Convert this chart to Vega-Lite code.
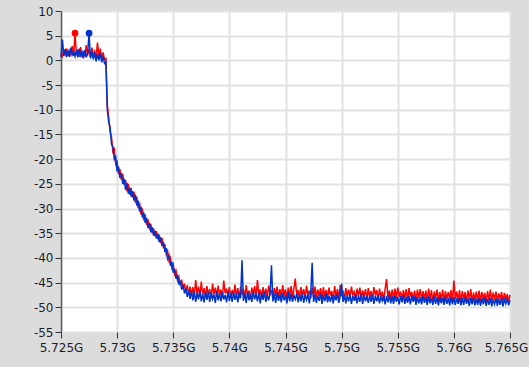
{
 "$schema": "https://vega.github.io/schema/vega-lite/v6.json",
 "width": 449, "height": 321,
 "autosize": {"type": "none"},
 "padding": {"left": 61, "top": 11, "right": 19, "bottom": 35},
 "background": "#dcdcdc",
 "config": {
  "view": {"fill": "white", "stroke": null},
  "axis": {"title": null, "labelFont": "DejaVu Sans", "labelFontSize": 12, "labelColor": "#1c1c2c", "gridColor": "#e2e2e2", "gridWidth": 2, "tickColor": "#333333", "tickSize": 6, "domainColor": "#5a5a5a", "domainWidth": 1.5, "labelOverlap": false, "labelBound": false, "labelFlush": false}
 },
 "datasets": {
  "trace": [
   {"f":5.725,"r":1.5,"b":0.6},{"f":5.725125,"r":0.9,"b":4.2},{"f":5.72525,"r":2.0,"b":0.9},{"f":5.725375,"r":1.1,"b":2.3},
   {"f":5.7255,"r":2.4,"b":1.0},{"f":5.725625,"r":0.8,"b":1.9},{"f":5.72575,"r":1.9,"b":0.7},{"f":5.725875,"r":1.2,"b":2.6},
   {"f":5.726,"r":2.9,"b":1.1},{"f":5.726125,"r":0.9,"b":1.8},{"f":5.72625,"r":5.5,"b":0.8},{"f":5.726375,"r":1.1,"b":2.0},
   {"f":5.7265,"r":2.2,"b":0.6},{"f":5.726625,"r":0.7,"b":2.4},{"f":5.72675,"r":2.7,"b":1.0},{"f":5.726875,"r":0.6,"b":1.7},
   {"f":5.727,"r":1.9,"b":0.4},{"f":5.727125,"r":0.8,"b":2.1},{"f":5.72725,"r":3.1,"b":0.6},{"f":5.727375,"r":1.0,"b":1.5},
   {"f":5.7275,"r":2.3,"b":5.5},{"f":5.727625,"r":0.7,"b":0.4},{"f":5.72775,"r":2.6,"b":1.8},{"f":5.727875,"r":0.9,"b":0.2},
   {"f":5.728,"r":1.8,"b":1.6},{"f":5.728125,"r":0.5,"b":-0.2},{"f":5.72825,"r":3.6,"b":1.3},{"f":5.728375,"r":0.8,"b":0.0},
   {"f":5.7285,"r":2.4,"b":1.5},{"f":5.728625,"r":0.3,"b":-0.4},{"f":5.72875,"r":1.6,"b":0.8},{"f":5.728875,"r":0.2,"b":-0.6},
   {"f":5.729,"r":0.4,"b":-0.3},{"f":5.729125,"r":-9,"b":-10},{"f":5.72925,"r":-11.5,"b":-12.5},{"f":5.729375,"r":-14.5,"b":-13.5},
   {"f":5.7295,"r":-15.5,"b":-17},{"f":5.729625,"r":-18.5,"b":-17.5},{"f":5.72975,"r":-18,"b":-20},{"f":5.729875,"r":-21,"b":-19.5},
   {"f":5.73,"r":-20.5,"b":-22.5},{"f":5.730125,"r":-23,"b":-21.5},{"f":5.73025,"r":-22,"b":-23.8},{"f":5.730375,"r":-24.2,"b":-22.8},
   {"f":5.7305,"r":-23,"b":-25},{"f":5.730625,"r":-25.2,"b":-24},{"f":5.73075,"r":-24.2,"b":-26.2},{"f":5.730875,"r":-26.5,"b":-24.8},
   {"f":5.731,"r":-25,"b":-27},{"f":5.731125,"r":-27.2,"b":-25.8},{"f":5.73125,"r":-25.8,"b":-27.6},{"f":5.731375,"r":-27.8,"b":-26.5},
   {"f":5.7315,"r":-26.6,"b":-28.4},{"f":5.731625,"r":-28.8,"b":-27.2},{"f":5.73175,"r":-27.6,"b":-29.4},{"f":5.731875,"r":-29.9,"b":-28.4},
   {"f":5.732,"r":-28.8,"b":-30.6},{"f":5.732125,"r":-31.2,"b":-29.6},{"f":5.73225,"r":-30,"b":-31.8},{"f":5.732375,"r":-32.4,"b":-30.8},
   {"f":5.7325,"r":-31.2,"b":-32.9},{"f":5.732625,"r":-33.3,"b":-31.9},{"f":5.73275,"r":-32.2,"b":-33.9},{"f":5.732875,"r":-34.2,"b":-32.9},
   {"f":5.733,"r":-33.1,"b":-34.8},{"f":5.733125,"r":-35,"b":-33.8},{"f":5.73325,"r":-34,"b":-35.5},{"f":5.733375,"r":-35.6,"b":-34.5},
   {"f":5.7335,"r":-34.6,"b":-36.1},{"f":5.733625,"r":-36.2,"b":-35.1},{"f":5.73375,"r":-35.3,"b":-36.8},{"f":5.733875,"r":-37,"b":-35.8},
   {"f":5.734,"r":-36,"b":-37.6},{"f":5.734125,"r":-38,"b":-36.8},{"f":5.73425,"r":-37.2,"b":-38.8},{"f":5.734375,"r":-39.3,"b":-38},
   {"f":5.7345,"r":-38.6,"b":-40.2},{"f":5.734625,"r":-40.6,"b":-39.5},{"f":5.73475,"r":-40,"b":-41.6},{"f":5.734875,"r":-42,"b":-40.8},
   {"f":5.735,"r":-41.3,"b":-43},{"f":5.735125,"r":-43.3,"b":-42.2},{"f":5.73525,"r":-42.6,"b":-44.2},{"f":5.735375,"r":-44.5,"b":-43.4},
   {"f":5.7355,"r":-43.8,"b":-45.4},{"f":5.735625,"r":-45.6,"b":-44.6},{"f":5.73575,"r":-44.4,"b":-46.4},{"f":5.735875,"r":-46.3,"b":-45.4},
   {"f":5.736,"r":-45.2,"b":-47.2},{"f":5.736125,"r":-46.9,"b":-46.2},{"f":5.73625,"r":-45.5,"b":-47.9},{"f":5.736375,"r":-47.4,"b":-46.6},
   {"f":5.7365,"r":-45.8,"b":-48.3},{"f":5.736625,"r":-47.6,"b":-46.7},{"f":5.73675,"r":-45.9,"b":-48.6},{"f":5.736875,"r":-47.8,"b":-46.9},
   {"f":5.737,"r":-44.5,"b":-48.9},{"f":5.737125,"r":-47.3,"b":-47.1},{"f":5.73725,"r":-45.8,"b":-48.4},{"f":5.737375,"r":-47.9,"b":-46.6},
   {"f":5.7375,"r":-44.8,"b":-48.8},{"f":5.737625,"r":-47.5,"b":-47.3},{"f":5.73775,"r":-46.1,"b":-49.0},{"f":5.737875,"r":-48.0,"b":-46.8},
   {"f":5.738,"r":-45.7,"b":-48.5},{"f":5.738125,"r":-47.6,"b":-47.0},{"f":5.73825,"r":-46.3,"b":-48.9},{"f":5.738375,"r":-48.2,"b":-46.9},
   {"f":5.7385,"r":-45.2,"b":-48.3},{"f":5.738625,"r":-47.4,"b":-47.4},{"f":5.73875,"r":-46.0,"b":-49.1},{"f":5.738875,"r":-47.9,"b":-46.7},
   {"f":5.739,"r":-45.6,"b":-48.6},{"f":5.739125,"r":-47.7,"b":-47.2},{"f":5.73925,"r":-46.4,"b":-48.8},{"f":5.739375,"r":-48.1,"b":-46.9},
   {"f":5.7395,"r":-44.6,"b":-48.4},{"f":5.739625,"r":-47.2,"b":-47.5},{"f":5.73975,"r":-46.2,"b":-49.0},{"f":5.739875,"r":-47.8,"b":-46.8},
   {"f":5.74,"r":-45.9,"b":-48.7},{"f":5.740125,"r":-48.0,"b":-47.1},{"f":5.74025,"r":-46.5,"b":-48.9},{"f":5.740375,"r":-47.6,"b":-46.9},
   {"f":5.7405,"r":-45.4,"b":-48.5},{"f":5.740625,"r":-47.9,"b":-47.3},{"f":5.74075,"r":-46.1,"b":-49.0},{"f":5.740875,"r":-48.2,"b":-47.0},
   {"f":5.741,"r":-45.8,"b":-48.2},{"f":5.741125,"r":-47.5,"b":-40.5},{"f":5.74125,"r":-46.3,"b":-48.7},{"f":5.741375,"r":-48.0,"b":-47.2},
   {"f":5.7415,"r":-45.5,"b":-49.1},{"f":5.741625,"r":-47.7,"b":-46.9},{"f":5.74175,"r":-46.6,"b":-48.6},{"f":5.741875,"r":-48.3,"b":-47.4},
   {"f":5.742,"r":-46.0,"b":-48.9},{"f":5.742125,"r":-47.4,"b":-46.8},{"f":5.74225,"r":-45.7,"b":-48.4},{"f":5.742375,"r":-48.1,"b":-47.3},
   {"f":5.7425,"r":-44.5,"b":-48.8},{"f":5.742625,"r":-47.6,"b":-47.0},{"f":5.74275,"r":-46.4,"b":-49.2},{"f":5.742875,"r":-48.2,"b":-47.1},
   {"f":5.743,"r":-45.9,"b":-48.5},{"f":5.743125,"r":-47.8,"b":-46.8},{"f":5.74325,"r":-46.2,"b":-48.9},{"f":5.743375,"r":-48.0,"b":-47.5},
   {"f":5.7435,"r":-45.6,"b":-48.6},{"f":5.743625,"r":-47.3,"b":-47.2},{"f":5.74375,"r":-46.5,"b":-41.5},{"f":5.743875,"r":-48.3,"b":-48.8},
   {"f":5.744,"r":-46.1,"b":-47.3},{"f":5.744125,"r":-47.7,"b":-49.1},{"f":5.74425,"r":-45.8,"b":-47.0},{"f":5.744375,"r":-48.1,"b":-48.7},
   {"f":5.7445,"r":-46.3,"b":-47.4},{"f":5.744625,"r":-47.9,"b":-49.0},{"f":5.74475,"r":-45.5,"b":-47.1},{"f":5.744875,"r":-47.6,"b":-48.6},
   {"f":5.745,"r":-46.4,"b":-47.5},{"f":5.745125,"r":-48.2,"b":-49.2},{"f":5.74525,"r":-46.0,"b":-46.9},{"f":5.745375,"r":-47.8,"b":-48.8},
   {"f":5.7455,"r":-45.7,"b":-47.3},{"f":5.745625,"r":-48.0,"b":-48.9},{"f":5.74575,"r":-46.2,"b":-47.6},{"f":5.745875,"r":-44.2,"b":-48.4},
   {"f":5.746,"r":-47.6,"b":-47.2},{"f":5.746125,"r":-46.5,"b":-49.0},{"f":5.74625,"r":-48.3,"b":-47.4},{"f":5.746375,"r":-45.9,"b":-48.8},
   {"f":5.7465,"r":-47.7,"b":-47.1},{"f":5.746625,"r":-46.3,"b":-49.1},{"f":5.74675,"r":-48.1,"b":-47.5},{"f":5.746875,"r":-45.6,"b":-48.5},
   {"f":5.747,"r":-47.5,"b":-47.3},{"f":5.747125,"r":-46.6,"b":-49.2},{"f":5.74725,"r":-48.2,"b":-47.0},{"f":5.747375,"r":-46.0,"b":-41.0},
   {"f":5.7475,"r":-47.9,"b":-48.9},{"f":5.747625,"r":-45.8,"b":-47.4},{"f":5.74775,"r":-48.0,"b":-49.1},{"f":5.747875,"r":-46.4,"b":-47.6},
   {"f":5.748,"r":-47.7,"b":-48.7},{"f":5.748125,"r":-46.1,"b":-47.2},{"f":5.74825,"r":-48.4,"b":-49.3},{"f":5.748375,"r":-45.9,"b":-47.5},
   {"f":5.7485,"r":-47.8,"b":-48.8},{"f":5.748625,"r":-46.5,"b":-47.3},{"f":5.74875,"r":-48.3,"b":-49.0},{"f":5.748875,"r":-46.0,"b":-47.7},
   {"f":5.749,"r":-47.6,"b":-48.9},{"f":5.749125,"r":-46.7,"b":-47.4},{"f":5.74925,"r":-48.5,"b":-49.2},{"f":5.749375,"r":-45.7,"b":-47.6},
   {"f":5.7495,"r":-47.9,"b":-48.6},{"f":5.749625,"r":-46.3,"b":-47.3},{"f":5.74975,"r":-48.2,"b":-49.1},{"f":5.749875,"r":-45.5,"b":-47.8},
   {"f":5.75,"r":-47.7,"b":-45.2},{"f":5.750125,"r":-46.6,"b":-48.9},{"f":5.75025,"r":-48.4,"b":-47.5},{"f":5.750375,"r":-46.1,"b":-49.2},
   {"f":5.7505,"r":-47.8,"b":-47.6},{"f":5.750625,"r":-46.4,"b":-48.8},{"f":5.75075,"r":-48.1,"b":-47.4},{"f":5.750875,"r":-45.8,"b":-49.3},
   {"f":5.751,"r":-47.5,"b":-47.7},{"f":5.751125,"r":-46.9,"b":-48.7},{"f":5.75125,"r":-48.6,"b":-47.4},{"f":5.751375,"r":-46.2,"b":-49.2},
   {"f":5.7515,"r":-47.7,"b":-47.6},{"f":5.751625,"r":-46.0,"b":-48.9},{"f":5.75175,"r":-48.3,"b":-47.3},{"f":5.751875,"r":-46.6,"b":-49.3},
   {"f":5.752,"r":-47.8,"b":-47.5},{"f":5.752125,"r":-46.3,"b":-48.8},{"f":5.75225,"r":-48.5,"b":-47.8},{"f":5.752375,"r":-46.1,"b":-49.1},
   {"f":5.7525,"r":-47.9,"b":-47.6},{"f":5.752625,"r":-46.7,"b":-48.9},{"f":5.75275,"r":-48.4,"b":-47.4},{"f":5.752875,"r":-45.9,"b":-49.3},
   {"f":5.753,"r":-47.6,"b":-47.7},{"f":5.753125,"r":-46.5,"b":-48.8},{"f":5.75325,"r":-48.6,"b":-47.5},{"f":5.753375,"r":-46.2,"b":-49.2},
   {"f":5.7535,"r":-48.0,"b":-47.9},{"f":5.753625,"r":-46.8,"b":-48.7},{"f":5.75375,"r":-48.7,"b":-47.6},{"f":5.753875,"r":-46.3,"b":-49.4},
   {"f":5.754,"r":-44.3,"b":-47.7},{"f":5.754125,"r":-47.9,"b":-49.0},{"f":5.75425,"r":-46.6,"b":-47.5},{"f":5.754375,"r":-48.3,"b":-49.2},
   {"f":5.7545,"r":-46.4,"b":-47.8},{"f":5.754625,"r":-48.5,"b":-49.3},{"f":5.75475,"r":-46.2,"b":-47.6},{"f":5.754875,"r":-48.1,"b":-48.9},
   {"f":5.755,"r":-46.0,"b":-47.9},{"f":5.755125,"r":-47.9,"b":-49.4},{"f":5.75525,"r":-46.8,"b":-47.7},{"f":5.755375,"r":-48.6,"b":-49.0},
   {"f":5.7555,"r":-46.5,"b":-47.6},{"f":5.755625,"r":-48.2,"b":-49.3},{"f":5.75575,"r":-46.3,"b":-47.9},{"f":5.755875,"r":-48.8,"b":-49.1},
   {"f":5.756,"r":-46.1,"b":-47.7},{"f":5.756125,"r":-47.8,"b":-49.4},{"f":5.75625,"r":-46.9,"b":-47.6},{"f":5.756375,"r":-48.5,"b":-48.9},
   {"f":5.7565,"r":-46.6,"b":-47.8},{"f":5.756625,"r":-48.8,"b":-49.5},{"f":5.75675,"r":-46.4,"b":-47.9},{"f":5.756875,"r":-48.1,"b":-49.2},
   {"f":5.757,"r":-46.3,"b":-48.0},{"f":5.757125,"r":-48.6,"b":-49.4},{"f":5.75725,"r":-46.7,"b":-47.7},{"f":5.757375,"r":-48.3,"b":-49.1},
   {"f":5.7575,"r":-46.6,"b":-47.9},{"f":5.757625,"r":-48.7,"b":-49.5},{"f":5.75775,"r":-46.2,"b":-47.8},{"f":5.757875,"r":-48.4,"b":-49.2},
   {"f":5.758,"r":-46.5,"b":-48.1},{"f":5.758125,"r":-48.9,"b":-49.5},{"f":5.75825,"r":-46.8,"b":-47.8},{"f":5.758375,"r":-48.2,"b":-49.3},
   {"f":5.7585,"r":-46.4,"b":-48.0},{"f":5.758625,"r":-48.7,"b":-49.6},{"f":5.75875,"r":-46.9,"b":-47.9},{"f":5.758875,"r":-48.5,"b":-49.2},
   {"f":5.759,"r":-46.4,"b":-48.1},{"f":5.759125,"r":-48.8,"b":-49.5},{"f":5.75925,"r":-46.7,"b":-47.8},{"f":5.759375,"r":-48.3,"b":-49.3},
   {"f":5.7595,"r":-46.9,"b":-48.2},{"f":5.759625,"r":-48.6,"b":-49.6},{"f":5.75975,"r":-46.5,"b":-47.9},{"f":5.759875,"r":-48.9,"b":-49.4},
   {"f":5.76,"r":-44.6,"b":-48.0},{"f":5.760125,"r":-48.4,"b":-49.5},{"f":5.76025,"r":-46.8,"b":-48.2},{"f":5.760375,"r":-48.7,"b":-49.3},
   {"f":5.7605,"r":-46.5,"b":-48.0},{"f":5.760625,"r":-48.9,"b":-49.6},{"f":5.76075,"r":-46.7,"b":-48.1},{"f":5.760875,"r":-48.4,"b":-49.5},
   {"f":5.761,"r":-46.9,"b":-47.9},{"f":5.761125,"r":-48.8,"b":-49.3},{"f":5.76125,"r":-46.6,"b":-48.2},{"f":5.761375,"r":-48.5,"b":-49.7},
   {"f":5.7615,"r":-46.3,"b":-48.1},{"f":5.761625,"r":-48.9,"b":-49.4},{"f":5.76175,"r":-47.0,"b":-48.0},{"f":5.761875,"r":-48.6,"b":-49.6},
   {"f":5.762,"r":-46.8,"b":-48.3},{"f":5.762125,"r":-49.0,"b":-49.5},{"f":5.76225,"r":-46.6,"b":-48.1},{"f":5.762375,"r":-48.7,"b":-49.7},
   {"f":5.7625,"r":-46.9,"b":-48.2},{"f":5.762625,"r":-48.5,"b":-49.4},{"f":5.76275,"r":-47.1,"b":-48.0},{"f":5.762875,"r":-48.9,"b":-49.7},
   {"f":5.763,"r":-46.7,"b":-48.3},{"f":5.763125,"r":-48.6,"b":-49.5},{"f":5.76325,"r":-46.4,"b":-48.1},{"f":5.763375,"r":-48.8,"b":-49.8},
   {"f":5.7635,"r":-47.0,"b":-48.4},{"f":5.763625,"r":-48.5,"b":-49.4},{"f":5.76375,"r":-46.8,"b":-48.2},{"f":5.763875,"r":-48.9,"b":-49.7},
   {"f":5.764,"r":-47.2,"b":-48.3},{"f":5.764125,"r":-48.4,"b":-49.5},{"f":5.76425,"r":-46.9,"b":-48.1},{"f":5.764375,"r":-48.8,"b":-49.8},
   {"f":5.7645,"r":-47.1,"b":-48.4},{"f":5.764625,"r":-48.6,"b":-49.3},{"f":5.76475,"r":-47.3,"b":-48.2},{"f":5.764875,"r":-48.9,"b":-49.6},
   {"f":5.765,"r":-47.5,"b":-48.6}
  ],
  "peaks": [
   {"f":5.72625,"v":5.5,"s":"r"},{"f":5.7275,"v":5.5,"s":"b"}
  ]
 },
 "layer": [
  {
   "data": {"name": "trace"},
   "mark": {"type": "line", "color": "#ff0000", "strokeWidth": 1.5},
   "encoding": {
    "x": {"field": "f", "type": "quantitative", "scale": {"domain": [5.725, 5.765], "nice": false, "zero": false},
          "axis": {"values": [5.725,5.73,5.735,5.74,5.745,5.75,5.755,5.76,5.765], "tickCount": 20, "labelExpr": "format(datum.value, '.3~f') + 'G'", "domain": false, "tickSize": 6, "labelPadding": 4,
                   "labelOffset": {"condition": {"test": "datum.value > 5.764", "value": -4}, "value": 0}}},
    "y": {"field": "r", "type": "quantitative", "scale": {"domain": [-55, 10], "nice": false, "zero": false},
          "axis": {"values": [-55,-50,-45,-40,-35,-30,-25,-20,-15,-10,-5,0,5,10], "tickCount": 20, "labelExpr": "'' + datum.value", "labelPadding": 2}}
   }
  },
  {
   "data": {"name": "trace"},
   "mark": {"type": "line", "color": "#0033cc", "strokeWidth": 1.5},
   "encoding": {
    "x": {"field": "f", "type": "quantitative"},
    "y": {"field": "b", "type": "quantitative"}
   }
  },
  {
   "data": {"name": "peaks"},
   "mark": {"type": "circle", "size": 45, "opacity": 1},
   "encoding": {
    "x": {"field": "f", "type": "quantitative"},
    "y": {"field": "v", "type": "quantitative"},
    "color": {"field": "s", "type": "nominal", "scale": {"domain": ["r", "b"], "range": ["#ff0000", "#0033cc"]}, "legend": null}
   }
  },
  {
   "mark": {"type": "rule", "color": "#6e6e6e", "strokeWidth": 1.5},
   "encoding": {"y": {"datum": 10, "type": "quantitative"}}
  }
 ]
}
